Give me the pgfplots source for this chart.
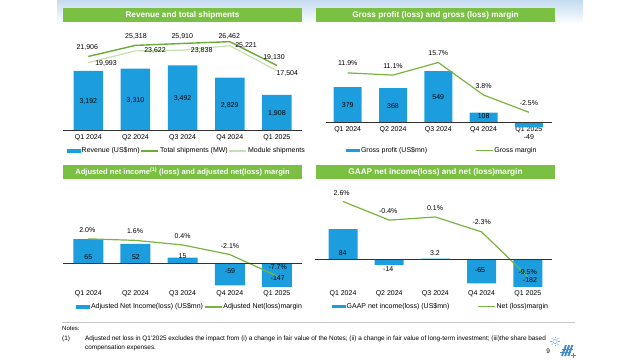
\documentclass[border=0pt]{standalone}
\usepackage{pgfplots}
\pgfplotsset{compat=1.18}
\usepackage{fontspec}
\setmainfont{Liberation Sans}
\definecolor{barblue}{RGB}{28,158,222}
\definecolor{titlegreen}{RGB}{122,192,66}
\definecolor{linegreen}{RGB}{108,170,58}
\definecolor{lightgreen}{RGB}{196,224,172}
\definecolor{margingreen}{RGB}{120,180,62}
\definecolor{skyblue}{RGB}{196,219,240}
\definecolor{logoblue}{RGB}{70,140,200}
\definecolor{basegray}{RGB}{50,50,50}
\newcommand{\fs}[1]{\fontsize{#1}{#1}\selectfont}

\pgfplotsset{
  panel/.style={scale only axis, anchor=south west, xmin=-0.5, xmax=4.5,
    enlargelimits=false, axis line style={draw=none}, ytick=\empty,
    major tick length=0pt, xtick={0,1,2,3,4},
    xticklabels={Q1 2024,Q2 2024,Q3 2024,Q4 2024,Q1 2025},
    xticklabel style={font=\fs{7}, text=black},
    legend cell align=left},
  sec/.style={scale only axis, anchor=south west, xmin=-0.5, xmax=4.5,
    enlargelimits=false, hide axis, clip=false},
  lbl/.style={nodes near coords, point meta=explicit symbolic,
    visualization depends on={value \thisrow{dx}\as\ldx},
    visualization depends on={value \thisrow{dy}\as\ldy},
    every node near coord/.append style={anchor=center, xshift=\ldx pt,
      yshift=\ldy pt, font=\fs{7}, text=black, inner sep=0pt}},
  leg/.style={legend style={draw=none, fill=none, legend columns=-1,
    at={(axis description cs:0,0)}, anchor=west, font=\fs{7},
    inner sep=0pt, outer sep=0pt, nodes={inner sep=1pt},
    /tikz/every even column/.append style={column sep=#1}}},
  barleg/.style={legend image code/.code={\fill[barblue] (0pt,-1.6pt) rectangle (14pt,1.6pt);}},
}

\begin{document}
\begin{tikzpicture}[x=1pt,y=1pt]
\path[use as bounding box] (0,0) rectangle (640,360);
% header
\shade[top color=skyblue, bottom color=white] (57,360) rectangle (583,336);
% title bars
\fill[titlegreen] (63.3,337.7) rectangle (301.7,351.7);
\node[text=white, font=\bfseries\fs{8.2}] at (182.5,344.7) {Revenue and total shipments};
\fill[titlegreen] (316,337.7) rectangle (555,351.7);
\node[text=white, font=\bfseries\fs{8.2}] at (435.5,344.7) {Gross profit (loss) and gross (loss) margin};
\fill[titlegreen] (63.3,180.7) rectangle (301.7,195);
\node[text=white, font=\bfseries\fs{7.6}] at (182.5,187.8) {Adjusted net income\textsuperscript{(1)} (loss) and adjusted net(loss) margin};
\fill[titlegreen] (316,180.7) rectangle (555,195);
\node[text=white, font=\bfseries\fs{8.2}] at (435.5,187.8) {GAAP net income(loss) and net (loss)margin};

% ---------- Panel 1 ----------
\begin{axis}[panel, at={(64.725pt,229.3pt)}, width=235.75pt, height=100.7pt,
  ymin=0, ymax=5377, leg=0pt,
  legend style={xshift=1.975pt, yshift=-20.3pt}]
\addplot[ybar, fill=barblue, draw=none, bar width=29.5pt, lbl, barleg]
  table[x=x, y=y, meta=lab] {
x y dx dy lab
0 3192 0 -30.1 3,192
1 3310 0 -31.3 3,310
2 3492 0 -33.7 3,492
3 2829 0 -27.3 2,829
4 1908 0 -18.3 1,908
};
\addlegendentry{Revenue (US\$mn)}
\addlegendimage{linegreen, line width=1.4pt, line legend}
\addlegendentry{Total shipments (MW)}
\addlegendimage{lightgreen, line width=1.2pt, line legend}
\addlegendentry{Module shipments}
\end{axis}
\begin{axis}[sec, at={(64.725pt,229.3pt)}, width=235.75pt, height=100.7pt,
  ymin=-987, ymax=30060]
\addplot[linegreen, line width=1.4pt, mark=none, lbl] table[x=x, y=y, meta=lab] {
x y dx dy lab
0 21906 -1 8.75 21,906
1 25318 0.5 8.4 25,318
2 25910 -0.3 6.5 25,910
3 26462 -0.5 4.7 26,462
4 19130 -2.9 8.15 19,130
};
\addplot[lightgreen, line width=1.2pt, mark=none, lbl] table[x=x, y=y, meta=lab] {
x y dx dy lab
0 19993 17.7 -1.05 19,993
1 23622 19.55 0.2 23,622
2 23838 19.1 -0.5 23,838
3 25221 16.25 -0.3 25,221
4 17504 10.4 -2.3 17,504
};
\end{axis}

% ---------- Panel 2 ----------
\begin{axis}[panel, at={(325.05pt,237.3pt)}, width=226.5pt, height=82.7pt,
  ymin=0, ymax=880.8, clip=false, leg=47pt,
  legend style={xshift=20.95pt, yshift=-28pt}]
\addplot[ybar, fill=barblue, draw=none, bar width=28pt, lbl, barleg]
  table[x=x, y=y, meta=lab] {
x y dx dy lab
0 379 0 -18.2 379
1 368 0 -17.85 368
2 549 0 -26.15 549
3 108 0 -3.45 108
4 -49 0 -10 -49
};
\addlegendentry{Gross profit (US\$mn)}
\addlegendimage{margingreen, line width=1.2pt, line legend}
\addlegendentry{Gross margin}
\end{axis}
\begin{axis}[sec, at={(325.05pt,237.3pt)}, width=226.5pt, height=82.7pt,
  ymin=-6.305, ymax=23.92]
\addplot[margingreen, line width=1.2pt, mark=none, lbl,
  nodes near coords={\pgfplotspointmeta\%}] table[x=x, y=y, meta=lab] {
x y dx dy lab
0 11.9 0 9.6 11.9
1 11.1 0 9.4 11.1
2 15.7 0 9.2 15.7
3 3.8 0 9.35 3.8
4 -2.5 0 9.6 -2.5
};
\end{axis}

% ---------- Panel 3 ----------
\begin{axis}[panel, at={(64.725pt,73.3pt)}, width=235.75pt, height=86.7pt,
  ymin=-62.7, ymax=169.6, leg=0pt,
  legend style={xshift=11.3pt, yshift=-20.3pt}]
\addplot[ybar, fill=barblue, draw=none, bar width=30pt, barleg]
  table[x=x, y=y] {
x y
0 65
1 52
2 15
3 -59
4 -147
};
\addlegendentry{Adjusted Net Income(loss) (US\$mn)}
\addlegendimage{margingreen, line width=1.2pt, line legend}
\addlegendentry{Adjusted Net(loss)margin}
\end{axis}
\begin{axis}[sec, at={(64.725pt,73.3pt)}, width=235.75pt, height=86.7pt,
  ymin=-62.7, ymax=169.6]
\addplot[ybar, fill=none, draw=none, bar width=30pt, lbl]
  table[x=x, y=y, meta=lab] {
x y dx dy lab
0 65 0 -17.65 65
1 52 0.5 -12.8 52
2 15 0 1.7 15
3 -59 0.25 14.3 -59
4 -147 0.8 39.8 -147
};
\end{axis}
\begin{axis}[sec, at={(64.725pt,73.3pt)}, width=235.75pt, height=86.7pt,
  ymin=-10.52, ymax=12.16]
\addplot[margingreen, line width=1.2pt, mark=none, lbl,
  nodes near coords={\pgfplotspointmeta\%}] table[x=x, y=y, meta=lab] {
x y dx dy lab
0 2.0 -1 8.85 2.0
1 1.6 -0.45 9.07 1.6
2 0.4 0 8.96 0.4
3 -2.1 0.25 8.52 -2.1
4 -7.7 0.8 8.62 -7.7
};
\end{axis}

% ---------- Panel 4 ----------
\begin{axis}[panel, at={(319.9pt,73.3pt)}, width=231pt, height=106.7pt,
  ymin=-74.3, ymax=219.2, leg=27pt,
  legend style={xshift=11.8pt, yshift=-20pt}]
\addplot[ybar, fill=barblue, draw=none, bar width=29pt, barleg]
  table[x=x, y=y] {
x y
0 84
1 -14
2 3.2
3 -65
4 -182
};
\addlegendentry{GAAP net income(loss) (US\$mn)}
\addlegendimage{margingreen, line width=1.2pt, line legend}
\addlegendentry{Net (loss)margin}
\end{axis}
\begin{axis}[sec, at={(319.9pt,73.3pt)}, width=231pt, height=106.7pt,
  ymin=-74.3, ymax=219.2]
\addplot[ybar, fill=none, draw=none, bar width=29pt, lbl]
  table[x=x, y=y, meta=lab] {
x y dx dy lab
0 84 -0.3 -24.15 84
1 -14 -0.9 -4.2 -14
2 3.2 -0.4 5.24 3.2
3 -65 -1.6 13.34 -65
4 -182 2.2 45.9 -182
};
\end{axis}
\begin{axis}[sec, at={(319.9pt,73.3pt)}, width=231pt, height=106.7pt,
  ymin=-11.13, ymax=6.06]
\addplot[margingreen, line width=1.2pt, mark=none, lbl,
  nodes near coords={\pgfplotspointmeta\%}] table[x=x, y=y, meta=lab] {
x y dx dy lab
0 2.6 -1.3 8.8 2.6
1 -0.4 -0.9 9.4 -0.4
2 0.1 -0.4 8.7 0.1
3 -2.3 0.1 9.9 -2.3
4 -9.5 -0.1 4.3 -9.5
};
\end{axis}

% baselines
\draw[basegray, line width=0.6pt] (63.3,229.3) -- (301.7,229.3);
\draw[basegray, line width=0.6pt] (326,237.3) -- (551.7,237.3);
\draw[basegray, line width=0.6pt] (63.3,96.7) -- (301.7,96.7);
\draw[basegray, line width=0.6pt] (315,100.3) -- (551.7,100.3);

% notes
\draw[gray!45, line width=0.7pt] (62,37.3) -- (575,37.3);
\node[anchor=west, inner sep=0pt, font=\fs{6}] at (62,32) {Notes:};
\node[anchor=west, inner sep=0pt, font=\fs{6.4}] at (62,20.7) {(1)};
\node[anchor=west, inner sep=0pt, font=\fs{6.4}] at (85,20.7) {Adjusted net loss in Q1'2025 excludes the impact from (i) a change in fair value of the Notes; (ii) a change in fair value of long-term investment; (iii)the share based};
\node[anchor=west, inner sep=0pt, font=\fs{6.4}] at (85,12.5) {compensation expenses.};
\node[font=\fs{6.5}] at (548.3,8.3) {9};
% logo
\draw[logoblue!70, line width=0.5pt] (555,18.5) circle (2.2);
\foreach \a in {0,45,...,315} {\draw[logoblue!70, line width=0.4pt] (555,18.5)+(\a:3.2) -- +(\a:4.8);}
\foreach \i in {0,1,2} {\fill[logoblue] (561+\i*3.2,4) -- (563+\i*3.2,4) -- (567+\i*3.2,15) -- (565+\i*3.2,15) -- cycle;}
\draw[logoblue, line width=0.5pt] (560,7.5) -- (571,7.5);
\draw[logoblue, line width=0.5pt] (561.5,11) -- (572.5,11);
\draw[logoblue, line width=0.5pt] (571,5) -- (576,5) (573.5,2.5) -- (573.5,7.5);
\end{tikzpicture}
\end{document}
